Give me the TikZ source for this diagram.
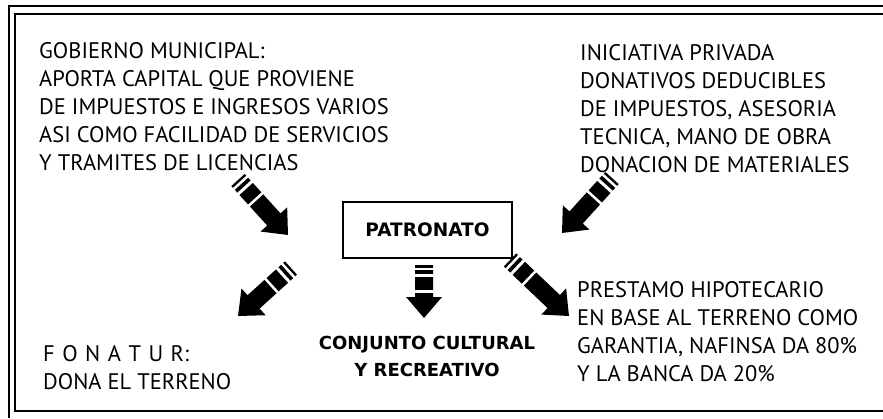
\documentclass[tikz,border=0pt]{standalone}
\usepackage{fontspec}
\setmainfont{PT Sans}
\newfontfamily\boldfam{DejaVu Sans}
\usetikzlibrary{calc}
\tikzset{
  frameline/.style={line width=1.5pt},
  txt/.style={anchor=base west, inner sep=0pt, align=left, font=\fontsize{22.5}{28}\selectfont},
  boldtxt/.style={inner sep=0pt, align=center, font=\boldfam\bfseries\fontsize{18}{27}\selectfont},
  patbox/.style={draw, line width=1.1pt, minimum width=169pt, minimum height=56pt, inner sep=0pt,
    font=\boldfam\bfseries\fontsize{18.5}{20}\selectfont},
  barr/.pic={
    \fill[black] (0,-9) -- ({#1-21},-9) -- ({#1-21},-18) -- (#1,0) -- ({#1-21},18) -- ({#1-21},9) -- (0,9) -- cycle;
    \fill[white] (2.5,-11) rectangle (5,11);
    \fill[white] (9,-11) rectangle (12,11);
    \fill[white] (25,-11) rectangle (27.5,11);
  }
}
\newcommand\blkarrow[2]{%
  \path let \p1=($(#2)-(#1)$) in \pgfextra{%
    \pgfmathsetmacro\tmpang{atan2(\y1,\x1)}%
    \pgfmathsetmacro\tmplen{veclen(\x1,\y1)}%
    \xdef\barang{\tmpang}\xdef\barlen{\tmplen}};
  \pic[rotate=\barang] at (#1) {barr=\barlen};
}
\begin{document}
\begin{tikzpicture}[x=1pt,y=-1pt]
  \useasboundingbox[fill=white] (0,0) rectangle (883,418);
  % frame
  \draw[frameline] (9,418) -- (9,6) -- (883,6);
  \draw[frameline] (883,14) -- (15,14) -- (15,411) -- (883,411);

  % texts (anchored at the baseline of their last line)
  \node[txt] (gob) at (39,170) {GOBIERNO MUNICIPAL:\\APORTA CAPITAL QUE PROVIENE\\DE IMPUESTOS E INGRESOS VARIOS\\ASI COMO FACILIDAD DE SERVICIOS\\Y TRAMITES DE LICENCIAS};
  \node[txt] (ini) at (580,172) {INICIATIVA PRIVADA\\DONATIVOS DEDUCIBLES\\DE IMPUESTOS, ASESORIA\\TECNICA, MANO DE OBRA\\DONACION DE MATERIALES};
  \node[patbox] (pat) at (427.5,230) {PATRONATO};
  \node[txt] (fon) at (43,389) {F\,\,O\,\,N\,\,A\,\,T\,\,U\,\,R:\\DONA EL TERRENO};
  \node[boldtxt, anchor=base] (con) at (427,376) {CONJUNTO CULTURAL\\Y RECREATIVO};
  \node[txt] (pre) at (577,381) {PRESTAMO HIPOTECARIO\\EN BASE AL TERRENO COMO\\GARANTIA, NAFINSA DA 80\%\\Y LA BANCA DA 20\%};

  % arrow end points
  \coordinate (a1t) at (238,180); \coordinate (a1h) at (288,235);
  \coordinate (a2t) at (612,178); \coordinate (a2h) at (562,233);
  \coordinate (a3t) at (291,268); \coordinate (a3h) at (238,316);
  \coordinate (a4t) at (424,265); \coordinate (a4h) at (424,318);
  \coordinate (a5t) at (510,260); \coordinate (a5h) at (569,316);

  \blkarrow{a1t}{a1h}
  \blkarrow{a2t}{a2h}
  \blkarrow{a3t}{a3h}
  \blkarrow{a4t}{a4h}
  \blkarrow{a5t}{a5h}
\end{tikzpicture}
\end{document}
